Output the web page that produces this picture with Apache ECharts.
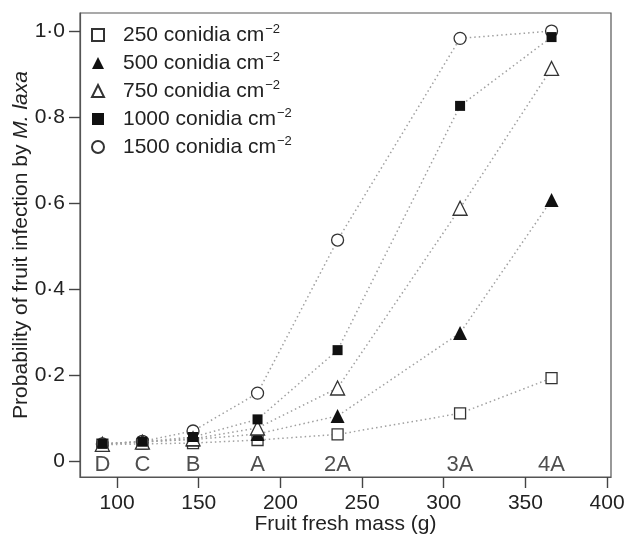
<!DOCTYPE html>
<html>
<head>
<meta charset="utf-8">
<script src="https://cdn.jsdelivr.net/npm/echarts@6/dist/echarts.min.js"></script>
<style>
html,body{margin:0;padding:0;background:#fff;}
#chart{width:626px;height:535px;}
</style>
</head>
<body>
<div id="chart"></div>
<script>
// fruit fresh mass (g) at each stage
var mass = [91, 115.5, 146.5, 186, 235, 310, 366];
var stages = ['D', 'C', 'B', 'A', '2A', '3A', '4A'];
var doses = ['250', '500', '750', '1000', '1500'];
// probability of infection per dose (conidia cm-2)
var p250 = [0.038, 0.040, 0.042, 0.049, 0.062, 0.111, 0.193];
var p500 = [0.040, 0.045, 0.050, 0.063, 0.105, 0.298, 0.607];
var p750 = [0.039, 0.044, 0.052, 0.077, 0.170, 0.588, 0.913];
var p1000 = [0.040, 0.045, 0.056, 0.097, 0.258, 0.826, 0.986];
var p1500 = [0.040, 0.046, 0.070, 0.158, 0.514, 0.983, 1.0];
var yTicks = [0, 0.2, 0.4, 0.6, 0.8, 1.0];
var xTicks = [100, 150, 200, 250, 300, 350, 400];

var font = 'Liberation Sans, Arial, Helvetica, sans-serif';
var values = [p250, p500, p750, p1000, p1500];
var symbols = ['rect', 'triangle', 'triangle', 'rect', 'circle'];
var sizes = [11, 14, 14, 10, 12];
var filled = [false, true, false, true, false];

var myChart = echarts.init(document.getElementById('chart'));

var series = [];
for (var i = 0; i < doses.length; i++) {
	var pts = [];
	for (var j = 0; j < mass.length; j++) {
		pts.push([mass[j], values[i][j]]);
	}
	series.push({
		name: doses[i],
		type: 'line',
		data: pts,
		symbol: symbols[i],
		symbolSize: sizes[i],
		showAllSymbol: true,
		z: i == 4 ? 2 : 3,
		lineStyle: {color: '#a0a0a0', width: 1.5, type: [1.5, 3]},
		itemStyle: {
			color: filled[i] ? '#111' : '#fff',
			borderColor: '#333',
			borderWidth: filled[i] ? 0 : 1.3,
			opacity: 1
		},
		emphasis: {disabled: true},
		animation: false
	});
}

// stage letters along the bottom
var stagePts = [];
for (var k = 0; k < stages.length; k++) {
	stagePts.push({value: [mass[k], -0.009], label: {formatter: stages[k]}});
}
series.push({
	type: 'scatter',
	data: stagePts,
	symbolSize: 1,
	itemStyle: {color: 'rgba(0,0,0,0)'},
	label: {show: true, position: 'inside', fontSize: 22, color: '#222', fontFamily: font},
	silent: true,
	animation: false
});

var legendData = [];
for (var m = 0; m < doses.length; m++) {
	legendData.push({name: doses[m], icon: symbols[m]});
}

var option = {
	backgroundColor: '#fff',
	animation: false,
	grid: {
		left: 80, right: 15, top: 13, bottom: 58,
		outerBoundsMode: 'none',
		containLabel: false,
		show: true, borderColor: '#555', borderWidth: 1.2, backgroundColor: 'transparent'
	},
	legend: {
		orient: 'vertical',
		left: 86,
		top: 18,
		itemWidth: 12,
		itemHeight: 12,
		itemGap: 5.5,
		data: legendData,
		selectedMode: false,
		formatter: function (name) {
			return '{a|' + name + ' conidia cm}{s|\u22122}';
		},
		textStyle: {
			fontFamily: font,
			color: '#222',
			rich: {
				a: {fontSize: 21, fontFamily: font, color: '#222', padding: [0, 0, 0, 14]},
				s: {fontSize: 13, fontFamily: font, color: '#222', padding: [0, 0, 11, 1]}
			}
		}
	},
	xAxis: {
		type: 'value',
		min: 77.3,
		max: 402.4,
		name: 'Fruit fresh mass (g)',
		nameLocation: 'middle',
		nameGap: 37,
		nameMoveOverlap: false,
		nameTextStyle: {fontSize: 21, fontFamily: font, color: '#222'},
		axisLine: {show: true, onZero: false, lineStyle: {color: '#555', width: 1.2}},
		axisTick: {show: true, inside: false, length: 11, customValues: xTicks, lineStyle: {color: '#444', width: 1.4}},
		axisLabel: {customValues: xTicks, fontSize: 21, fontFamily: font, color: '#222', margin: 16},
		splitLine: {show: false}
	},
	yAxis: {
		type: 'value',
		min: -0.037,
		max: 1.042,
		name: 'Probability of fruit infection by {i|M. laxa}',
		nameLocation: 'middle',
		nameGap: 48,
		nameMoveOverlap: false,
		nameTextStyle: {
			fontSize: 21, fontFamily: font, color: '#222',
			rich: {i: {fontSize: 21, fontFamily: font, color: '#222', fontStyle: 'italic'}}
		},
		axisLine: {show: true, onZero: false, lineStyle: {color: '#555', width: 1.2}},
		axisTick: {show: true, inside: false, length: 11, customValues: yTicks, lineStyle: {color: '#444', width: 1.4}},
		axisLabel: {
			customValues: yTicks,
			fontSize: 21, fontFamily: font, color: '#222', margin: 15,
			formatter: function (v) {
				if (Math.abs(v) < 1e-9) return '0';
				return v.toFixed(1).replace('.', '\u00b7');
			}
		},
		splitLine: {show: false}
	},
	series: series
};

myChart.setOption(option);
</script>
</body>
</html>
